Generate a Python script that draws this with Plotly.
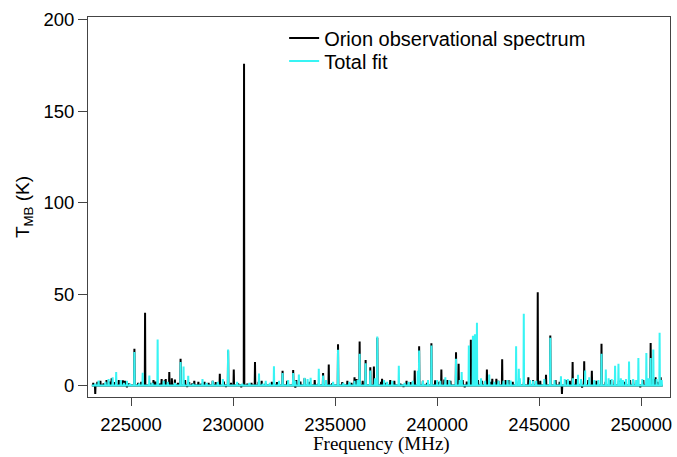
import plotly.graph_objects as go

# ---- data ----
obs_peak_freq = [223247, 223500, 223800, 224050, 224400, 224700, 225166, 225688, 226100, 226500,
                 226700, 226875, 227000, 227428, 227650, 228100, 228600, 229000, 229350, 229756,
                 230034, 230537, 231074, 231400, 231900, 232425, 232945, 233500, 234000, 234410,
                 234688, 235142, 235600, 235950, 236201, 236494, 236723, 236899, 237065, 237300,
                 237700, 238500, 238900, 239116, 239717, 240205, 240500, 240923, 241051, 241650,
                 241800, 242436, 242700, 242900, 243184, 243500, 244468, 244927, 245332, 245542,
                 246113, 246636, 247203, 247578, 248051, 248500, 249000, 249600, 250459, 250700,
                 250950]
obs_peak_temp = [-4.6, 2.5, 3.0, 4.0, 3.0, 2.5, 20.1, 39.8, 3.0, 3.5,
                 3.5, 7.3, 4.0, 14.6, 3.0, 2.5, 2.0, 2.5, 6.4, 19.2,
                 8.7, 176.0, 12.8, 2.5, 2.0, 8.0, 8.4, 4.0, 3.0, 6.8,
                 11.5, 22.5, 2.5, 4.5, 24.1, 14.0, 10.0, 10.4, 26.1, 3.6,
                 3.0, 2.5, 8.2, 21.5, 23.1, 8.8, 3.0, 18.2, 11.9, 25.0,
                 22.0, 8.8, 3.6, 3.6, 14.3, 3.0, 4.5, 51.0, 5.8, 27.3,
                 -4.6, 12.8, 13.3, 8.0, 22.8, 3.0, 3.0, 3.0, 23.2, 4.5,
                 4.5]

obs_minor_freq = [223150, 223350, 223650, 223950, 224200, 224600, 224900, 225350, 225500, 225950,
                  226200, 226400, 226650, 227150, 227300, 227850, 228000, 228300, 228450, 228800,
                  229150, 229550, 229900, 230250, 230700, 230900, 231250, 231600, 232150, 232650,
                  233100, 233300, 233750, 234200, 234850, 235350, 235800, 236050, 236350, 237250,
                  237500, 237900, 238200, 238700, 239300, 239500, 239900, 240100, 240350, 240650,
                  241250, 241450, 242000, 242200, 242600, 243000, 243350, 243700, 244000, 244250,
                  244700, 245050, 245800, 246000, 246300, 246500, 246800, 247050, 247400, 247800,
                  248250, 248700, 248900, 249200, 249450, 249800, 250100, 250300, 250600, 250800,
                  224800, 227750, 230400, 233050, 238350, 241350, 247100, 249950, 229650]
obs_minor_temp = [1.5, 2.0, 1.2, 2.2, 1.8, 2.8, 1.2, 1.5, 2.0, 1.5,
                  2.2, 1.0, 2.8, 3.2, 1.5, 1.8, 1.2, 2.0, 1.0, 1.5,
                  1.8, 2.2, 1.5, 1.2, 1.0, 1.5, 2.0, 1.2, 1.8, 2.5,
                  3.0, 2.2, 2.0, 1.5, 1.2, 1.8, 1.5, 3.5, 2.5, 2.0,
                  1.5, 2.5, 1.0, 1.8, 2.5, 1.5, 2.8, 2.0, 3.2, 2.5,
                  3.0, 2.2, 3.0, 2.5, 2.0, 2.5, 3.0, 2.0, 2.5, 2.0,
                  3.0, 2.5, 3.0, 2.0, 3.0, 2.5, 3.5, 2.5, 3.0, 2.5,
                  2.0, 3.0, 2.5, 2.0, 3.0, 2.5, 3.0, 2.5, 3.5, 2.0,
                  -1.0, -0.8, -1.0, -1.2, -0.8, -1.0, -1.2, -1.0, -0.8]

fit_peak_freq = [223408, 223900, 224100, 224272, 224500, 224800, 225166, 225571, 225898, 226304,
                 226600, 227428, 227574, 227803, 228501, 229000, 229756, 230200, 231270, 231600,
                 232002, 232425, 232945, 233223, 233500, 233800, 234199, 234410, 235142, 235700,
                 236201, 236494, 236723, 237065, 237400, 237800, 238120, 238600, 239050, 239116,
                 239717, 240000, 240400, 240923, 241200, 241550, 241750, 241850, 241948, 242550,
                 243000, 243600, 243867, 243999, 244243, 244700, 245542, 246064, 246400, 246900,
                 247250, 247700, 248051, 248262, 248716, 248882, 249100, 249400, 249600, 249858,
                 250249, 250459, 250590, 250898, 251000]
fit_peak_temp = [2.7, 3.5, 4.5, 7.3, 3.0, 2.5, 18.3, 7.0, 5.5, 25.2,
                 2.5, 12.8, 10.4, 5.3, 3.5, 2.5, 19.7, 2.0, 6.5, 2.5,
                 10.5, 6.8, 6.8, 6.0, 4.2, 4.2, 9.2, 5.5, 19.5, 2.0,
                 17.4, 12.2, 8.2, 26.8, 3.0, 2.5, 10.8, 2.0, 8.0, 19.1,
                 21.9, 3.0, 4.5, 14.6, 7.3, 21.9, 27.2, 28.0, 34.3, 6.0,
                 2.5, 2.7, 21.5, 9.2, 39.3, 2.5, 26.1, 5.1, 3.5, 5.8,
                 8.2, 3.0, 17.4, 8.8, 10.8, 11.9, 3.0, 13.1, 3.5, 15.1,
                 17.7, 15.1, 19.7, 28.9, 3.0]

fit_minor_freq = [223250, 223750, 224650, 224950, 225400, 226050, 226800, 227150, 228050, 228700,
                  229250, 229500, 230450, 230800, 231450, 231800, 232250, 232700, 233050, 233650,
                  234550, 234900, 235400, 235950, 236100, 236950, 237550, 238400, 238800, 239300,
                  239550, 240150, 240600, 241100, 242150, 242350, 242800, 243250, 243450, 244050,
                  244550, 244850, 245250, 245750, 246250, 246650, 247050, 247450, 247900, 248400,
                  248550, 249000, 249250, 249750, 250050, 250350, 250750]
fit_minor_temp = [1.0, 2.0, 1.5, 1.0, 1.2, 1.5, 2.0, 1.5, 1.0, 1.5,
                  2.0, 3.5, 1.0, 1.5, 1.0, 1.5, 2.5, 3.0, 2.5, 3.5,
                  3.0, 2.0, 1.5, 2.5, 3.0, 4.0, 2.0, 1.5, 2.5, 2.5,
                  3.0, 2.5, 3.0, 3.0, 4.0, 2.5, 2.0, 2.5, 3.0, 4.0,
                  3.0, 2.5, 3.5, 3.0, 3.5, 4.0, 3.5, 4.5, 3.0, 4.0,
                  3.5, 4.0, 3.5, 3.0, 3.5, 4.0, 3.5]

spec_start, spec_end = 223080, 251050
x_ticks = [225000, 230000, 235000, 240000, 245000, 250000]
y_ticks = [0, 50, 100, 150, 200]


def spectrum(freqs, temps, half_width=14):
    pairs = sorted(zip(freqs, temps))
    xs, ys = [spec_start], [0.0]
    for f, t in pairs:
        xs += [f - half_width, f, f + half_width]
        ys += [0.0, t, 0.0]
    xs.append(spec_end)
    ys.append(0.0)
    return xs, ys


ox, oy = spectrum(obs_peak_freq + obs_minor_freq, obs_peak_temp + obs_minor_temp)
fx, fy = spectrum(fit_peak_freq + fit_minor_freq, fit_peak_temp + fit_minor_temp)

fig = go.Figure()
fig.add_trace(go.Scatter(x=ox, y=oy, mode="lines", name="Orion observational spectrum",
                         line=dict(color="#000000", width=2), legend="legend"))
fig.add_trace(go.Scatter(x=fx, y=fy, mode="lines", name="Total fit",
                         line=dict(color="#38F4F4", width=2), legend="legend2"))

axis_font = dict(family="Liberation Sans, Arial, sans-serif", size=18.5, color="#000000")
leg_font = dict(family="Liberation Sans, Arial, sans-serif", size=20, color="#000000")
fig.update_layout(
    width=677, height=457,
    margin=dict(l=88, r=7, t=17, b=60),
    paper_bgcolor="white", plot_bgcolor="white",
    showlegend=True,
    legend=dict(x=0.337, y=0.9447, xanchor="left", yanchor="middle",
                bgcolor="rgba(0,0,0,0)", font=leg_font, itemwidth=30),
    legend2=dict(x=0.337, y=0.884, xanchor="left", yanchor="middle",
                 bgcolor="rgba(0,0,0,0)", font=leg_font, itemwidth=30),
    xaxis=dict(range=[222892, 251407], tickvals=x_ticks, ticktext=[str(v) for v in x_ticks],
               showgrid=False, zeroline=False, showline=True, mirror=True, automargin=False,
               linecolor="#444444", linewidth=1, ticks="outside", ticklen=8, tickcolor="#444444",
               tickfont=axis_font, ticklabelstandoff=3),
    yaxis=dict(range=[-6.3, 201.6], tickvals=y_ticks, showgrid=False, zeroline=False,
               showline=True, mirror=True, automargin=False, linecolor="#444444", linewidth=1,
               ticks="outside", ticklen=9, tickcolor="#444444", tickfont=axis_font,
               title=dict(text="T<sub>MB</sub> (K)", standoff=8,
                          font=dict(family="Liberation Sans, Arial, sans-serif", size=19, color="#000000"))),
    annotations=[dict(text="Frequency (MHz)", xref="paper", yref="paper", x=0.505, y=-0.158,
                      xanchor="center", yanchor="bottom", showarrow=False,
                      font=dict(family="Liberation Serif, Times New Roman, serif", size=19, color="#000000"))],
)

fig.write_html("out.html")
